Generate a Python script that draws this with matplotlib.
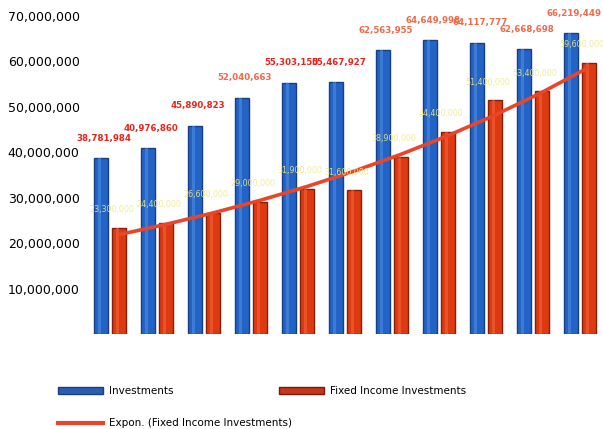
import numpy as np
import matplotlib.pyplot as plt
from matplotlib.patches import Patch
from matplotlib.lines import Line2D

# values
investments = [38781984, 40976860, 45890823, 52040663, 55303150, 55467927,
               62563955, 64649998, 64117777, 62668698, 66219449]
fixed_income = [23300000, 24400000, 26600000, 29000000, 31900000, 31600000,
                38900000, 44400000, 51400000, 53400000, 59600000]
label_colors = ["#e8251b", "#e8251b", "#e8251b", "#f06a4a", "#e8251b", "#e8251b",
                "#f06a4a", "#f06a4a", "#f06a4a", "#f06a4a", "#f06a4a"]
yticks = [10000000, 20000000, 30000000, 40000000, 50000000, 60000000, 70000000]

fig = plt.figure(figsize=(6.03, 4.29), dpi=100)
ax = fig.add_axes([88 / 603, 95 / 429, 512 / 603, 318 / 429])

n = len(investments)
x = np.arange(n)
off = 0.38
w = 0.30

ax.bar(x, investments, width=w, color="#2463c6", edgecolor="#173f88", linewidth=1.0, zorder=2)
ax.bar(x + off, fixed_income, width=w, color="#de3a12", edgecolor="#8a1e08", linewidth=1.0, zorder=2)
# light highlight stripe on bars
ax.bar(x - 0.03, investments, width=0.07, color="#4f8de0", linewidth=0, alpha=0.6, zorder=3)
ax.bar(x + off - 0.03, fixed_income, width=0.07, color="#f0643a", linewidth=0, alpha=0.6, zorder=3)

# exponential trendline of fixed income
k = np.arange(1, n + 1)
b, a = np.polyfit(k, np.log(fixed_income), 1)
trend = np.exp(a + b * k)
ax.plot(x + off, trend, color="#e8452a", linewidth=2.6, zorder=4, solid_capstyle="butt")

for i in range(n):
    ax.annotate(f"{investments[i]:,}", (x[i], investments[i]), xytext=(2, 11),
                textcoords="offset points", ha="center", va="bottom",
                fontsize=6.2, fontweight="bold", color=label_colors[i], annotation_clip=False)
    ax.annotate(f"{fixed_income[i]:,}", (x[i] + off, fixed_income[i]), xytext=(-5, 10),
                textcoords="offset points", ha="center", va="bottom",
                fontsize=5.8, color="#eeea8c", alpha=0.9, zorder=5, annotation_clip=True)

ax.set_xlim(-0.28, 10.62)
ax.set_ylim(0, 70000000)
ax.set_yticks(yticks)
ax.set_yticklabels([f"{v:,}" for v in yticks], fontsize=9)
ax.set_xticks([])
ax.tick_params(axis="y", length=0, pad=6)
for s in ax.spines.values():
    s.set_visible(False)

h_inv = Patch(facecolor="#2a5db0", edgecolor="#173f88", label="Investments")
h_fix = Patch(facecolor="#c8351a", edgecolor="#7a1a08", label="Fixed Income Investments")
h_exp = Line2D([0], [0], color="#e8452a", linewidth=3, label="Expon. (Fixed Income Investments)")

legend_spots = [(h_inv, 58, 391), (h_fix, 279, 391), (h_exp, 58, 423)]
for h, px, py in legend_spots:
    fig.legend(handles=[h], loc="center left", bbox_to_anchor=(px / 603, 1 - py / 429),
               frameon=False, fontsize=7.5, handlelength=4.3, handleheight=0.6,
               borderpad=0, borderaxespad=0, handletextpad=0.6)

fig.savefig("out.png", dpi=100)
